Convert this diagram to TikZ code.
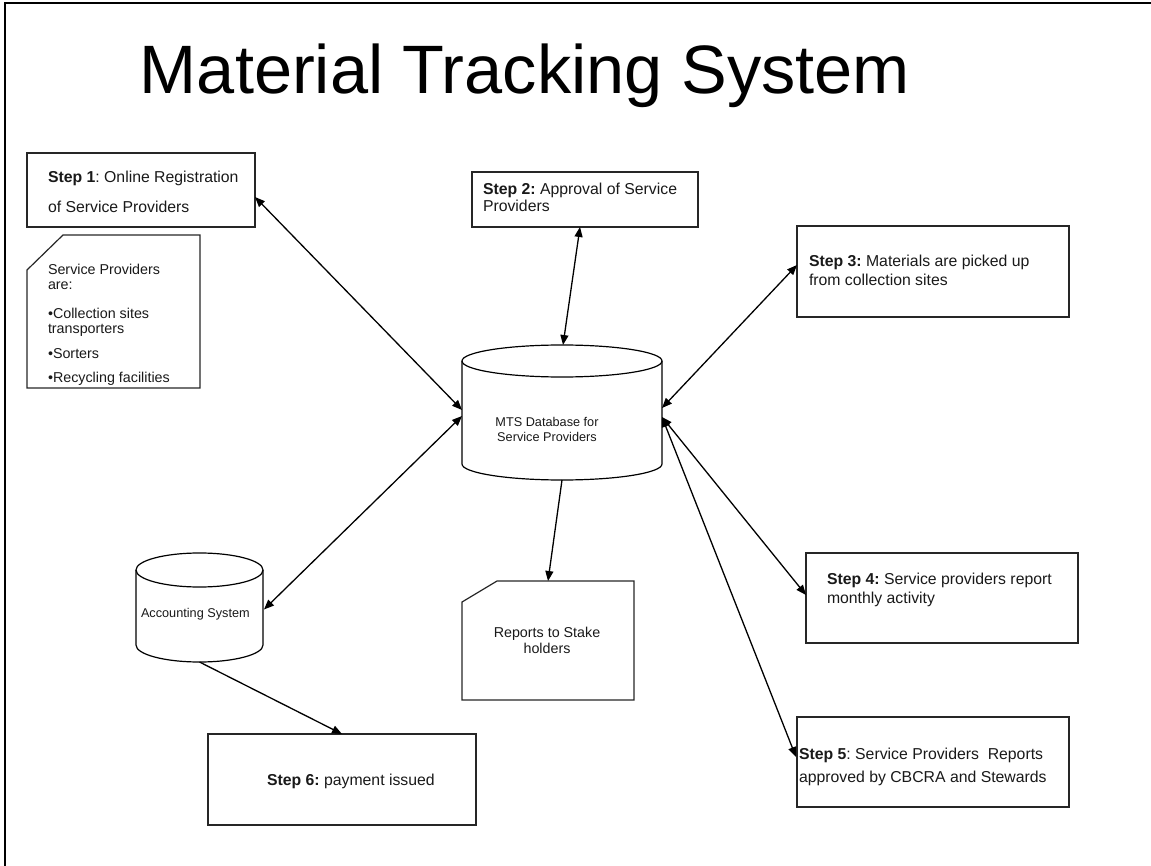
\documentclass[tikz,border=0pt]{standalone}
\usepackage{fontspec}
\setmainfont{Liberation Sans}
\usetikzlibrary{arrows.meta,calc}
\frenchspacing
\tikzset{
  box/.style={draw=black!85, line width=1.3pt, rectangle, inner sep=0pt, outer sep=0pt},
  ghost/.style={rectangle, inner sep=0pt, outer sep=0pt},
  txt/.style={inner sep=0pt, outer sep=0pt, align=left, text=black!90},
  ctxt/.style={inner sep=0pt, outer sep=0pt, align=center, text=black!90},
  shapeline/.style={draw=black, line width=1.2pt},
  conn/.style={draw=black, line width=1.3pt},
  tip/.style={-{Triangle[length=10pt,width=8pt]}},
  dtip/.style={{Triangle[length=10pt,width=8pt]}-{Triangle[length=10pt,width=8pt]}},
  f158/.style={font=\fontsize{15.8}{#1}\selectfont},
  f142/.style={font=\fontsize{14.3}{#1}\selectfont},
  f127/.style={font=\fontsize{12.7}{#1}\selectfont}
}
\begin{document}
\begin{tikzpicture}[x=1pt,y=-1pt]
\useasboundingbox (0,0) rectangle (1151,866);
% frame (top and left)
\draw[line width=2.2pt] (1151,3) -- (5,3) -- (5,866);
% title
\node[inner sep=0pt, anchor=base, font=\fontsize{68.5}{80}\selectfont] (title) at (525,94) {Material Tracking System};

% Step boxes
\node[box, minimum width=228pt, minimum height=74pt] (step1) at (141,190) {};
\node[box, minimum width=226pt, minimum height=55pt] (step2) at (585,199.5) {};
\node[box, minimum width=272pt, minimum height=91pt] (step3) at (933,271.5) {};
\node[box, minimum width=272pt, minimum height=90pt] (step4) at (942,598) {};
\node[box, minimum width=272pt, minimum height=90pt] (step5) at (933,762) {};
\node[box, minimum width=268pt, minimum height=91pt] (step6) at (342,779.5) {};

% texts (base anchor = baseline of last line)
\node[txt, anchor=base west, f158=30] (step1t) at (48,213) {\textbf{Step 1}: Online Registration\\of Service Providers};
\node[txt, anchor=base west, f158=17] (step2t) at (483,212) {\textbf{Step 2:} Approval of Service\\Providers};
\node[txt, anchor=base west, f158=19] (step3t) at (809,286) {\textbf{Step 3:} Materials are picked up\\from collection sites};
\node[txt, anchor=base west, f158=19] (step4t) at (827,603) {\textbf{Step 4:} Service providers report\\monthly activity};
\node[txt, anchor=base west, f158=23] (step5t) at (799,782) {\textbf{Step 5}: Service Providers~ Reports\\approved by CBCRA and Stewards};
\node[txt, anchor=base west, f158=19] (step6t) at (267,785) {\textbf{Step 6:} payment issued};

% Note: service providers
\node[ghost, minimum width=173pt, minimum height=153pt] (note) at (113.5,311.5) {};
\draw[shapeline, draw=black!85] ($(note.north west)+(36,0)$) -- (note.north east) -- (note.south east) -- (note.south west) -- ($(note.north west)+(0,35)$) -- cycle;
\node[txt, anchor=base west, f142=15.5] (notet) at (48,383) {Service Providers\\are:\\[13pt]\textbullet Collection sites\\transporters\\[9pt]\textbullet Sorters\\[9pt]\textbullet Recycling facilities};

% Note: reports
\node[ghost, minimum width=172pt, minimum height=119pt] (reports) at (548,640.5) {};
\draw[shapeline, draw=black!85] ($(reports.north west)+(35,0)$) -- (reports.north east) -- (reports.south east) -- (reports.south west) -- ($(reports.north west)+(0,21)$) -- cycle;
\node[ctxt, anchor=base, f142=16] (reportst) at (547,653) {Reports to Stake\\holders};

% MTS database cylinder
\node[ghost, minimum width=200pt, minimum height=135pt] (mts) at (562,412.5) {};
\draw[shapeline] (462,361) -- (462,464) arc[start angle=180, end angle=360, x radius=100pt, y radius=16pt] -- (662,361);
\draw[shapeline] (562,361) ellipse [x radius=100pt, y radius=16pt];
\node[ctxt, anchor=base, f127=15] (mtst) at (547,441) {MTS Database for\\Service Providers};

% Accounting system cylinder
\node[ghost, minimum width=127pt, minimum height=109pt] (acc) at (199.5,607.5) {};
\draw[shapeline] (136,570) -- (136,645) arc[start angle=180, end angle=360, x radius=63.5pt, y radius=17pt] -- (263,570);
\draw[shapeline] (199.5,570) ellipse [x radius=63.5pt, y radius=17pt];
\node[txt, anchor=base west, f127=15] (acct) at (141,617) {Accounting System};

% connectors
\draw[conn, dtip] ($(step1.east)+(0,7)$) -- ($(mts.west)+(0,-2.5)$);
\draw[conn, dtip] ($(acc.east)+(1,2)$) -- ($(mts.west)+(0,3.5)$);
\draw[conn, dtip] ($(step2.south)+(-5,0)$) -- ($(mts.north)+(1,0)$);
\draw[conn, dtip] ($(step3.west)+(0,-6.5)$) -- ($(mts.east)+(0,-4.5)$);
\draw[conn, dtip] ($(mts.east)+(0,4.5)$) -- ($(step4.west)+(0,-3)$);
\draw[conn, dtip] ($(mts.east)+(0,4.5)$) -- ($(step5.west)+(-1,-5)$);
\draw[conn, tip] (mts.south) -- (reports.north);
\draw[conn, tip] (acc.south) -- (step6.north);
\end{tikzpicture}
\end{document}
